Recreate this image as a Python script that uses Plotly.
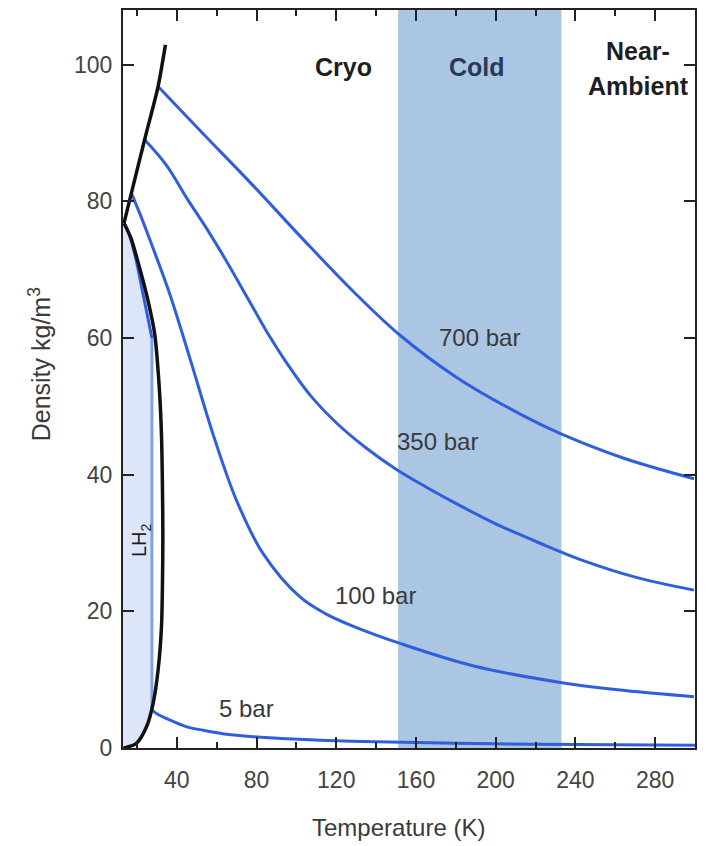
import plotly.graph_objects as go

# ---------------- data ----------------
# Melting line (black, upper-left)
melt_T = [34.3, 30.6, 24.0, 17.2, 13.5]
melt_rho = [102.9, 96.8, 89.2, 81.2, 76.8]
# Saturation dome (black): saturated liquid -> critical point -> saturated vapour
dome_T = [13.5, 17.0, 21.0, 25.6, 28.9, 31.1, 32.3, 32.8, 33.0, 32.8, 32.3, 30.6, 28.1, 24.8, 19.8, 14.8, 13.2]
dome_rho = [76.8, 74.6, 70.6, 65.4, 60.6, 53.2, 45.9, 38.0, 31.0, 24.0, 17.7, 11.4, 6.5, 3.1, 0.7, 0.1, 0.0]

# Isobars (density kg/m3 vs temperature K)
bar5_T = [13.5, 16.0, 19.5, 23.0, 25.8, 27.5, 27.5, 30.0, 36.5, 45.0, 53.2, 65.0, 78.3, 95.0,
          112.0, 140.0, 180.0, 220.0, 260.0, 300.0]
bar5_rho = [76.8, 75.3, 71.5, 66.5, 62.5, 60.0, 5.6, 5.0, 4.1, 3.1, 2.6, 2.0, 1.65, 1.35,
            1.15, 0.9, 0.7, 0.55, 0.47, 0.4]

bar100_T = [17.2, 22.0, 28.0, 36.5, 46.5, 58.2, 70.0, 83.4, 101.8, 115.0, 128.6, 152.0, 189.0,
            232.5, 265.0, 299.5]
bar100_rho = [81.2, 77.8, 73.2, 66.4, 57.1, 45.9, 36.2, 28.4, 22.1, 19.6, 17.8, 15.3, 12.0,
              9.6, 8.4, 7.5]

bar350_T = [23.9, 35.0, 44.9, 55.0, 65.0, 76.0, 86.0, 95.0, 107.0, 120.0, 135.0, 150.0, 165.0,
            180.0, 200.0, 222.0, 245.0, 270.0, 299.5]
bar350_rho = [89.0, 85.2, 80.5, 76.0, 71.2, 65.6, 60.5, 56.4, 51.6, 47.6, 43.9, 40.8, 38.2,
              35.8, 32.8, 30.0, 27.3, 25.0, 23.1]

bar700_T = [30.6, 53.2, 78.3, 103.5, 128.6, 152.0, 180.6, 214.0, 232.5, 264.3, 299.5]
bar700_rho = [96.8, 89.9, 82.3, 74.4, 66.8, 60.4, 54.2, 48.6, 46.0, 42.4, 39.4]

cold_band = [151, 233]
x_ticks = [40, 80, 120, 160, 200, 240, 280]
x_range = [13, 300]
y_range = [0, 108]

BLUE = "#2f5fdc"
FONT = "Liberation Sans, Arial, sans-serif"

fig = go.Figure()

# LH2 region fill: left edge, 5 bar liquid branch down to its vapour knee, then vapour curve to 0
knee = 6  # index of the bottom of the 5 bar phase-change drop
vap = [(t, r) for t, r in zip(dome_T, dome_rho) if r < bar5_rho[knee] and t < bar5_T[knee]]
poly_T = [x_range[0], x_range[0]] + bar5_T[:knee + 1] + [t for t, _ in vap]
poly_rho = [0, bar5_rho[0]] + bar5_rho[:knee + 1] + [r for _, r in vap]
fig.add_trace(go.Scatter(x=poly_T, y=poly_rho, fill="toself", fillcolor="#dde5f8",
                         line=dict(width=0), mode="lines", hoverinfo="skip"))

# isobars
for T, R in [(bar700_T, bar700_rho), (bar350_T, bar350_rho), (bar100_T, bar100_rho)]:
    fig.add_trace(go.Scatter(x=T, y=R, mode="lines",
                             line=dict(color=BLUE, width=3, shape="spline", smoothing=1.0)))
fig.add_trace(go.Scatter(x=bar5_T[:knee], y=bar5_rho[:knee], mode="lines",
                         line=dict(color=BLUE, width=3, shape="spline", smoothing=0.8)))
fig.add_trace(go.Scatter(x=bar5_T[knee - 1:knee + 1], y=bar5_rho[knee - 1:knee + 1], mode="lines",
                         line=dict(color="#82a0e6", width=3)))
fig.add_trace(go.Scatter(x=bar5_T[knee:], y=bar5_rho[knee:], mode="lines",
                         line=dict(color=BLUE, width=3, shape="spline", smoothing=0.8)))

# phase boundaries
fig.add_trace(go.Scatter(x=dome_T, y=dome_rho, mode="lines",
                         line=dict(color="#111111", width=3.5, shape="spline", smoothing=0.8)))
fig.add_trace(go.Scatter(x=melt_T, y=melt_rho, mode="lines",
                         line=dict(color="#111111", width=3.5, shape="spline", smoothing=0.6)))

ann = []
def label(x, y, text, size=24, color="#3a3a3a", bold=False, angle=0):
    ann.append(dict(x=x, y=y, xref="x", yref="y", text=f"<b>{text}</b>" if bold else text,
                    showarrow=False, textangle=angle,
                    font=dict(family=FONT, size=size, color=color)))

label(191.8, 60.1, "700 bar")
label(170.7, 44.8, "350 bar")
label(139.5, 22.3, "100 bar")
label(75.2, 5.8, "5 bar")
label(123.4, 99.7, "Cryo", size=25, color="#1e1e1e", bold=True)
label(190.8, 99.7, "Cold", size=25, color="#283a58", bold=True)
label(271.2, 102.0, "Near-", size=25, color="#1e1e1e", bold=True)
label(271.5, 96.9, "Ambient", size=25, color="#1e1e1e", bold=True)
label(21.9, 30.4, "LH<sub>2</sub>", size=20, color="#1e1e1e", angle=-90)

# axis titles
ann.append(dict(x=0.4825, y=-0.108, xref="paper", yref="paper", text="Temperature (K)",
                showarrow=False, xanchor="center", yanchor="middle",
                font=dict(family=FONT, size=24, color="#3a3a3a")))
ann.append(dict(x=-0.145, y=0.52, xref="paper", yref="paper", text="Density kg/m<sup>3</sup>",
                showarrow=False, xanchor="center", yanchor="middle", textangle=-90,
                font=dict(family=FONT, size=25, color="#3a3a3a")))

axis_common = dict(showline=True, linecolor="#222222", linewidth=2, mirror="allticks",
                   ticks="inside", ticklen=11, tickwidth=2, tickcolor="#222222",
                   showgrid=False, zeroline=False,
                   tickfont=dict(family=FONT, size=23, color="#444444"))
minor = dict(dtick=20, tick0=0, ticks="inside", ticklen=6, tickwidth=2, tickcolor="#222222")

fig.update_layout(
    width=711, height=846,
    margin=dict(l=123, r=16, t=8, b=98),
    paper_bgcolor="white", plot_bgcolor="white",
    showlegend=False,
    annotations=ann,
    shapes=[dict(type="rect", xref="x", yref="paper", x0=cold_band[0], x1=cold_band[1],
                 y0=0, y1=1, fillcolor="#aac6e2", line=dict(width=0), layer="below")],
    xaxis=dict(range=x_range, tickvals=x_ticks, ticklabelstandoff=10, minor=minor, **axis_common),
    yaxis=dict(range=y_range, dtick=20, ticklabelstandoff=4, **axis_common),
)

fig.write_html("out.html")
